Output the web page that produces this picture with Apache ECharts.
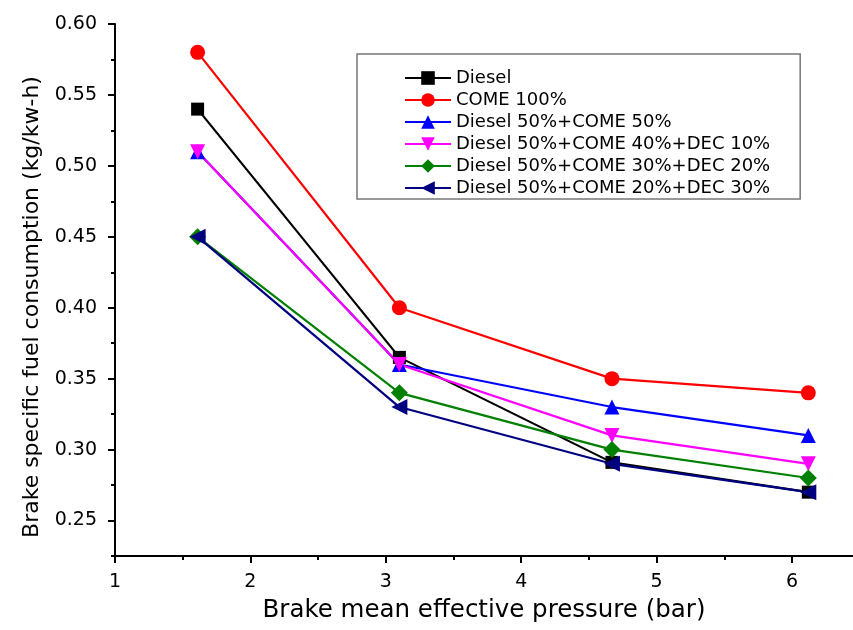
<!DOCTYPE html>
<html>
<head>
<meta charset="utf-8">
<script src="https://cdn.jsdelivr.net/npm/echarts@6/dist/echarts.min.js"></script>
<style>
  html, body { margin: 0; padding: 0; background: #fff; }
  #chart { width: 853px; height: 630px; }
</style>
</head>
<body>
<div id="chart"></div>
<script>
// brake mean effective pressure (bar)
const bmep = [1.61, 3.1, 4.67, 6.12]

const seriesNames = [
  'Diesel',
  'COME 100%',
  'Diesel 50%+COME 50%',
  'Diesel 50%+COME 40%+DEC 10%',
  'Diesel 50%+COME 30%+DEC 20%',
  'Diesel 50%+COME 20%+DEC 30%'
]

// bsfc (kg/kw-h)
const diesel = [0.54, 0.365, 0.291, 0.27]
const come100 = [0.58, 0.40, 0.35, 0.34]
const d50c50 = [0.51, 0.36, 0.33, 0.31]
const d50c40dec10 = [0.51, 0.36, 0.31, 0.29]
const d50c30dec20 = [0.45, 0.34, 0.30, 0.28]
const d50c20dec30 = [0.45, 0.33, 0.29, 0.27]

const xTicks = [1, 2, 3, 4, 5, 6]
const xMinorTicks = [1.5, 2.5, 3.5, 4.5, 5.5]
const yTicks = [0.25, 0.30, 0.35, 0.40, 0.45, 0.50, 0.55, 0.60]
const yMinorTicks = [0.225, 0.275, 0.325, 0.375, 0.425, 0.475, 0.525, 0.575]

const allValues = [diesel, come100, d50c50, d50c40dec10, d50c30dec20, d50c20dec30]
const colors = ['#000000', '#ff0000', '#0000ff', '#ff00ff', '#008000', '#000080']
const symbols = [
  'rect',
  'circle',
  'triangle',
  'path://M0,0 L10,0 L5,9 Z',   // down triangle
  'diamond',
  'path://M0,5 L9,0 L9,10 Z'    // left triangle
]
const sizes = [13, 15, 15, 15, 17, 16]

const font = 'DejaVu Sans'

const chart = echarts.init(document.getElementById('chart'))

const series = allValues.map((vals, i) => ({
  name: seriesNames[i],
  type: 'line',
  data: vals.map((v, j) => [bmep[j], v]),
  symbol: symbols[i],
  symbolSize: sizes[i],
  showAllSymbol: true,
  lineStyle: { color: colors[i], width: 2.2 },
  itemStyle: { color: colors[i] },
  emphasis: { disabled: true },
  animation: false
}))

const option = {
  backgroundColor: '#fff',
  animation: false,
  grid: {
    left: 115,
    right: 0,
    top: 24,
    bottom: 74
  },
  legend: {
    data: seriesNames,
    orient: 'vertical',
    left: 357,
    top: 54,
    padding: [15, 30, 2, 47],
    itemGap: 4,
    itemWidth: 46,
    itemHeight: 17,
    borderColor: '#777',
    borderWidth: 1.5,
    selectedMode: false,
    textStyle: { fontFamily: font, fontSize: 18, color: '#000' }
  },
  xAxis: [
    {
      type: 'value',
      min: 1,
      max: 6.45,
      name: 'Brake mean effective pressure (bar)',
      nameLocation: 'middle',
      nameGap: 42,
      nameTextStyle: { fontFamily: font, fontSize: 24.5, color: '#000' },
      splitLine: { show: false },
      axisLine: { lineStyle: { color: '#000', width: 2 } },
      axisTick: { customValues: xTicks, length: 7, lineStyle: { color: '#000', width: 2 } },
      axisLabel: {
        customValues: xTicks,
        margin: 17,
        fontFamily: font,
        fontSize: 19,
        color: '#000'
      }
    },
    {
      // minor ticks only
      type: 'value',
      min: 1,
      max: 6.45,
      position: 'bottom',
      splitLine: { show: false },
      axisLine: { show: false },
      axisTick: { customValues: xMinorTicks, length: 4, lineStyle: { color: '#000', width: 2 } },
      axisLabel: { show: false }
    }
  ],
  yAxis: [
    {
      type: 'value',
      min: 0.225,
      max: 0.6,
      name: 'Brake specific fuel consumption (kg/kw-h)',
      nameLocation: 'middle',
      nameGap: 72,
      nameTextStyle: { fontFamily: font, fontSize: 22, color: '#000', padding: [0, 34, 0, 0] },
      splitLine: { show: false },
      axisLine: { lineStyle: { color: '#000', width: 2 } },
      axisTick: { customValues: yTicks, length: 7, lineStyle: { color: '#000', width: 2 } },
      axisLabel: {
        customValues: yTicks,
        margin: 18,
        fontFamily: font,
        fontSize: 19,
        color: '#000',
        formatter: v => v.toFixed(2)
      }
    },
    {
      // minor ticks only
      type: 'value',
      min: 0.225,
      max: 0.6,
      position: 'left',
      splitLine: { show: false },
      axisLine: { show: false },
      axisTick: { customValues: yMinorTicks, length: 4, lineStyle: { color: '#000', width: 2 } },
      axisLabel: { show: false }
    }
  ],
  series: series
}

chart.setOption(option)
</script>
</body>
</html>
